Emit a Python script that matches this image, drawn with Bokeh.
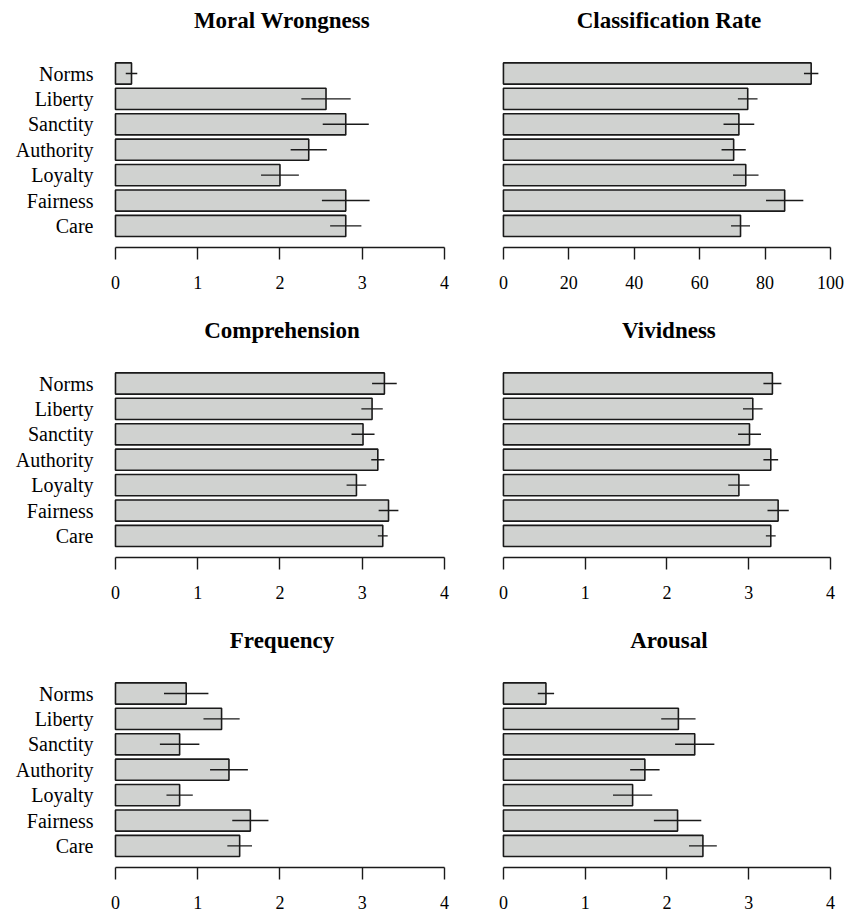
from bokeh.plotting import figure
from bokeh.layouts import gridplot
from bokeh.models import FixedTicker, Range1d, ColumnDataSource, Label
from bokeh.embed import file_html
from bokeh.resources import INLINE

categories = ["Norms", "Liberty", "Sanctity", "Authority", "Loyalty", "Fairness", "Care"]

titles = ["Moral Wrongness", "Classification Rate", "Comprehension", "Vividness", "Frequency", "Arousal"]

moral_mean = [0.195, 2.56, 2.80, 2.35, 2.00, 2.80, 2.80]
moral_se = [0.07, 0.30, 0.28, 0.22, 0.23, 0.29, 0.19]
class_mean = [94.1, 74.7, 72.0, 70.4, 74.1, 86.0, 72.5]
class_se = [2.2, 3.0, 4.7, 3.7, 3.9, 5.7, 2.9]
comp_mean = [3.27, 3.12, 3.01, 3.19, 2.93, 3.32, 3.25]
comp_se = [0.15, 0.13, 0.14, 0.08, 0.12, 0.12, 0.06]
viv_mean = [3.29, 3.05, 3.01, 3.27, 2.88, 3.36, 3.27]
viv_se = [0.11, 0.12, 0.14, 0.09, 0.13, 0.13, 0.06]
freq_mean = [0.86, 1.29, 0.78, 1.38, 0.78, 1.64, 1.51]
freq_se = [0.27, 0.22, 0.24, 0.23, 0.16, 0.22, 0.15]
arou_mean = [0.52, 2.14, 2.34, 1.73, 1.58, 2.13, 2.44]
arou_se = [0.10, 0.21, 0.24, 0.18, 0.24, 0.29, 0.17]

ticks_4 = [0, 1, 2, 3, 4]
ticks_100 = [0, 20, 40, 60, 80, 100]

FONT = "Liberation Serif"
BAR_FILL = "#d0d2d0"
INK = "#1a1a1a"

# vertical layout (px): frame spans from figure top down to the x axis
FRAME_H = 247
TITLE_FROM_BOTTOM = 227  # title centre, measured up from the axis line

# category slot positions, top category highest
n_cat = len(categories)
ypos = [n_cat - i for i in range(n_cat)]
label_map = {float(y): c for y, c in zip(ypos, categories)}


def panel(title, means, ses, ticks, left, height):
    xmax = ticks[-1]
    s = xmax / 4.0
    if left:
        width, mbl, mbr = 450, 107, 4
    else:
        width, mbl, mbr = 396, 45, 14
    p = figure(
        width=width, height=height,
        x_range=Range1d(-0.097 * s, 4.025 * s),
        y_range=Range1d(0.15, 9.874),
        output_backend="svg", toolbar_location=None,
        min_border_left=mbl, min_border_right=mbr,
        min_border_top=0, min_border_bottom=height - FRAME_H,
    )
    p.outline_line_color = None
    p.xgrid.visible = False
    p.ygrid.visible = False
    p.background_fill_color = "white"
    p.border_fill_color = "white"

    src = ColumnDataSource(dict(
        y=ypos, mean=means,
        lo=[m - e for m, e in zip(means, ses)],
        hi=[m + e for m, e in zip(means, ses)],
    ))
    p.hbar(y="y", left=0, right="mean", height=0.833, source=src,
           fill_color=BAR_FILL, line_color=INK, line_width=1.6)
    p.segment(x0="lo", y0="y", x1="hi", y1="y", source=src,
              line_color=INK, line_width=1.4)

    p.add_layout(Label(
        x=xmax / 2.0, y=TITLE_FROM_BOTTOM, x_units="data", y_units="screen",
        x_offset=2, text=title, text_font=FONT, text_font_style="bold",
        text_font_size="23px", text_color="black",
        text_align="center", text_baseline="middle",
    ))

    xa = p.xaxis[0]
    xa.ticker = FixedTicker(ticks=ticks)
    xa.bounds = (0, xmax)
    xa.axis_line_color = INK
    xa.axis_line_width = 1.4
    xa.major_tick_line_color = INK
    xa.major_tick_line_width = 1.4
    xa.major_tick_out = 12
    xa.major_tick_in = 0
    xa.minor_tick_line_color = None
    xa.major_label_standoff = 16
    xa.major_label_text_font = FONT
    xa.major_label_text_font_size = "18px"
    xa.major_label_text_color = "black"

    ya = p.yaxis[0]
    if left:
        ya.ticker = FixedTicker(ticks=ypos)
        ya.major_label_overrides = label_map
        ya.axis_line_color = None
        ya.major_tick_line_color = None
        ya.minor_tick_line_color = None
        ya.major_tick_out = 0
        ya.major_tick_in = 0
        ya.major_label_standoff = 14
        ya.major_label_text_font = FONT
        ya.major_label_text_font_size = "20px"
        ya.major_label_text_color = "black"
    else:
        ya.visible = False
    return p


h1, h2, h3 = 310, 310, 296
p1 = panel(titles[0], moral_mean, moral_se, ticks_4, True, h1)
p2 = panel(titles[1], class_mean, class_se, ticks_100, False, h1)
p3 = panel(titles[2], comp_mean, comp_se, ticks_4, True, h2)
p4 = panel(titles[3], viv_mean, viv_se, ticks_4, False, h2)
p5 = panel(titles[4], freq_mean, freq_se, ticks_4, True, h3)
p6 = panel(titles[5], arou_mean, arou_se, ticks_4, False, h3)

grid = gridplot([[p1, p2], [p3, p4], [p5, p6]], toolbar_location=None)

open("out.html", "w").write(file_html(grid, INLINE))
